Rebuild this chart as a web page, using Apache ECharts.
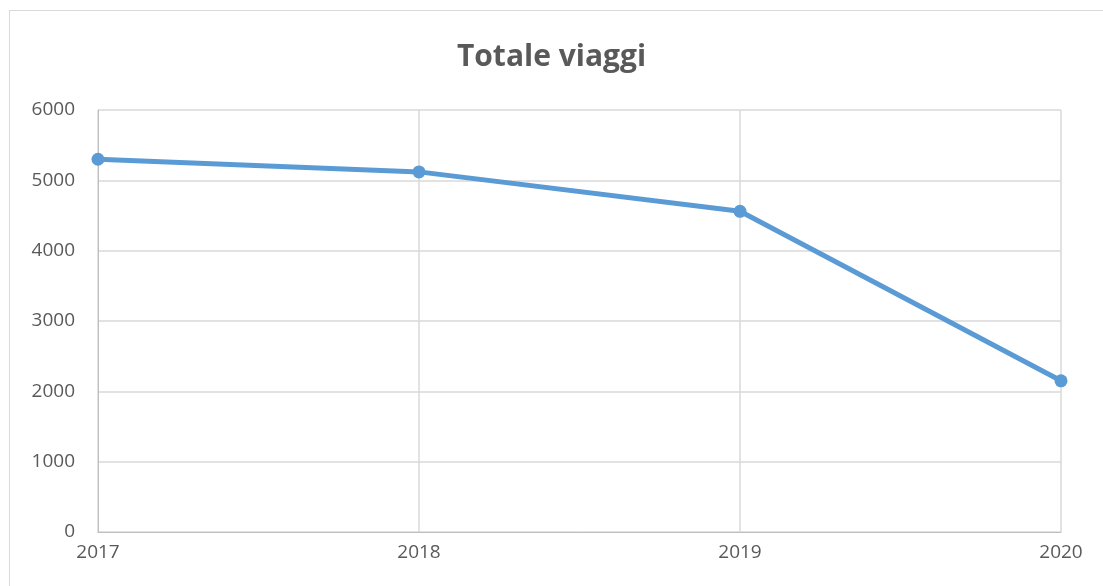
<!DOCTYPE html>
<html>
<head>
<meta charset="utf-8">
<script src="https://cdn.jsdelivr.net/npm/echarts@6/dist/echarts.min.js"></script>
<style>
  html, body { margin: 0; padding: 0; background: #fff; }
  #frame { position: absolute; left: 9px; top: 10px; width: 1110px; height: 600px; border: 1px solid #d9d9d9; box-sizing: border-box; }
  #chart { position: absolute; left: 0; top: 0; width: 1103px; height: 586px; }
</style>
</head>
<body>
<div id="frame"></div>
<div id="chart"></div>
<script>
  // dati
  var ANNI = ['2017', '2018', '2019', '2020'];
  var VIAGGI = [5300, 5120, 4560, 2150];

  var FONT = '"Open Sans", "Liberation Sans", sans-serif';
  var chart = echarts.init(document.getElementById('chart'), null, { renderer: 'canvas' });
  chart.setOption({
    animation: false,
    title: {
      text: 'Totale viaggi',
      left: 'center',
      top: 37,
      textStyle: { fontFamily: FONT, fontSize: 30, fontWeight: 'bold', color: '#595959' }
    },
    grid: { left: 98, right: 42, top: 110, bottom: 54 },
    xAxis: {
      type: 'category',
      data: ANNI,
      boundaryGap: false,
      axisLine: { lineStyle: { color: '#bfbfbf', width: 1 } },
      axisTick: { show: false },
      axisLabel: { color: '#595959', fontFamily: FONT, fontSize: 19, margin: 11 },
      splitLine: { show: true, lineStyle: { color: '#d9d9d9', width: 1.5 } }
    },
    yAxis: {
      type: 'value',
      min: 0,
      max: 6000,
      interval: 1000,
      axisLine: { show: true, lineStyle: { color: '#bfbfbf', width: 1 } },
      axisTick: { show: false },
      axisLabel: {
        color: '#595959', fontFamily: FONT, fontSize: 19, margin: 23,
        formatter: function (v) { return String(v); }
      },
      splitLine: { lineStyle: { color: '#d9d9d9', width: 1.5 } }
    },
    series: [{
      name: 'Totale viaggi',
      type: 'line',
      data: VIAGGI,
      symbol: 'circle',
      symbolSize: 13,
      lineStyle: { color: '#5b9bd5', width: 5 },
      itemStyle: { color: '#5b9bd5' }
    }]
  });
</script>
</body>
</html>
